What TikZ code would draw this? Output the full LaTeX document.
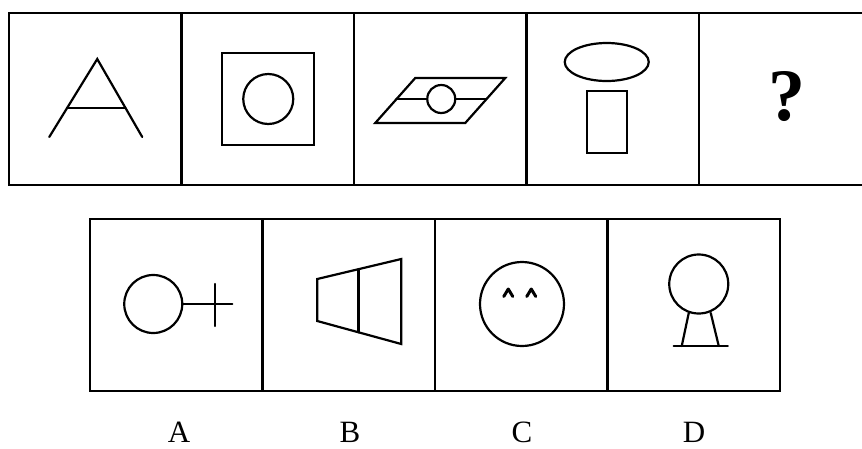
\documentclass[tikz,border=0pt]{standalone}
\usepackage{fontspec}
\setmainfont{Liberation Serif}
\usetikzlibrary{positioning,calc}
\tikzset{
  cell/.style={%
    draw,line width=2.2pt,
    minimum width=172.5pt,
    minimum height=172pt,
    inner sep=0pt,outer sep=0pt,
  },
  fig/.style={%
    line width=2.2pt,
    line cap=round,line join=miter,
  },
  optlabel/.style={%
    font=\fontsize{31}{31}\selectfont,
    anchor=base,inner sep=0pt,text depth=0pt,
  }
}
\begin{document}
\begin{tikzpicture}[
    x=1pt,y=-1pt,
    node distance=0pt,
  ]
\useasboundingbox (0,0) rectangle (862,448);
\clip (0,0) rectangle (862,448);
\fill[white] (0,0) rectangle (862,448);
% question row
\node[cell] (q1) at (95.25,99) {};
\node[cell,right=of q1] (q2) {};
\node[cell,right=of q2] (q3) {};
\node[cell,right=of q3] (q4) {};
\node[cell,right=of q4] (q5) {};
% answer row
\node[cell] (a1) at (176.25,305) {};
\node[cell,right=of a1] (a2) {};
\node[cell,right=of a2] (a3) {};
\node[cell,right=of a3] (a4) {};
% letter A shape
\begin{scope}[shift={(q1.center)},fig]
  \coordinate (apex) at (2,-40);
  \draw (-46,38) -- (apex) -- (47,38);
  \draw ($(apex)!0.63!(-46,38)$) -- ($(apex)!0.63!(47,38)$);
\end{scope}
% square with circle
\begin{scope}[shift={(q2.center)},fig]
  \draw (-46,-46) rectangle (46,46);
  \draw (0.5,0) circle[radius=25];
\end{scope}
% parallelogram
\begin{scope}[shift={(q3.center)},fig]
  \draw (-25,-21) -- (65,-21) -- (25,24) -- (-65,24) -- cycle;
  \draw (-44,0) -- (-13,0) (15,0) -- (46,0);
  \draw (1,0) circle[radius=14];
\end{scope}
% ellipse over rectangle
\begin{scope}[shift={(q4.center)},fig]
  \draw (-6,-37) ellipse[x radius=42,y radius=19];
  \draw (-26,-8) rectangle (14,54);
\end{scope}
\node[font=\fontsize{74}{74}\selectfont\bfseries,inner sep=0pt] (qm) at ([shift={(2,-2)}]q5.center) {?};
% option A
\begin{scope}[shift={(a1.center)},fig]
  \draw (-23,-1) circle[radius=29];
  \draw (6,-1) -- (56,-1);
  \draw (39,-21) -- (39,21);
\end{scope}
% option B
\begin{scope}[shift={(a2.center)},fig]
  \coordinate (b1) at (-31.5,-26);
  \coordinate (b2) at (52.5,-46);
  \coordinate (b3) at (52.5,39);
  \coordinate (b4) at (-31.5,16);
  \draw (b1) -- (b2) -- (b3) -- (b4) -- cycle;
  \draw ($(b1)!0.49!(b2)$) -- ($(b4)!0.49!(b3)$);
\end{scope}
% option C
\begin{scope}[shift={(a3.center)},fig]
  \draw (0.75,-1) circle[radius=42];
  \draw[line width=3pt,line join=round] (-17.5,-8.5) -- (-13,-16) -- (-8.5,-8.5);
  \draw[line width=3pt,line join=round] (5.5,-8.5) -- (10,-16) -- (14.5,-8.5);
\end{scope}
% option D
\begin{scope}[shift={(a4.center)},fig]
  \draw (5,-21) circle[radius=29.5];
  \draw (-5,8) -- (-12,41);
  \draw (17,8) -- (25,41);
  \draw (-20,41) -- (34,41);
\end{scope}
% labels
\node[optlabel] (labA) at (179,442) {A};
\node[optlabel] (labB) at (350,442) {B};
\node[optlabel] (labC) at (522,442) {C};
\node[optlabel] (labD) at (694,442) {D};
\end{tikzpicture}
\end{document}
